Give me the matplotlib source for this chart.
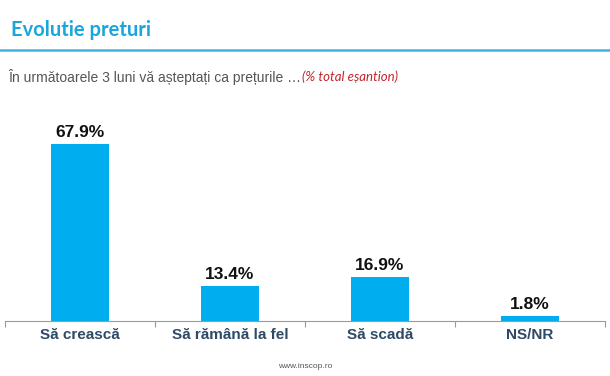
import matplotlib
matplotlib.use("Agg")
import matplotlib.pyplot as plt

categories = ["Să crească", "Să rămână la fel", "Să scadă", "NS/NR"]
values = [67.9, 13.4, 16.9, 1.8]
value_labels = ["67.9%", "13.4%", "16.9%", "1.8%"]

plt.rcParams['font.family'] = ['Liberation Sans', 'DejaVu Sans']

W, H = 610, 376
fig = plt.figure(figsize=(W/100, H/100), dpi=100)

# Title
fig.text(11/W, 1-30/H, "Evolutie preturi", fontsize=14.5, fontweight='bold',
         color='#1BA6DB', va='center', ha='left', family=['Lato', 'DejaVu Sans'])
fig.add_artist(plt.Line2D([0, 1], [1-50/H, 1-50/H], color='#3BB3E3', lw=1.8,
                          transform=fig.transFigure))

# Subtitle
t1 = fig.text(8/W, 1-77/H, "În următoarele 3 luni vă așteptați ca prețurile …",
              fontsize=10, color='#555555', va='center', ha='left')
fig.canvas.draw()
bb = t1.get_window_extent()
fig.text(bb.x1/W + 1/W, 1-77/H, "(% total eșantion)", fontsize=9.5, color='#C0262D',
         style='italic', va='center', ha='left', family=['Lato', 'DejaVu Sans'])

# Axes
ax_bottom = 1 - 321/H
ax_h = 75*2.607/H
ax = fig.add_axes([5/W, ax_bottom, 600/W, ax_h])
x = range(len(categories))
ax.bar(x, values, width=0.385, color='#00AEEF')
ax.set_xlim(-0.5, len(categories)-0.5)
ax.set_ylim(0, 75)
for i, (v, lab) in enumerate(zip(values, value_labels)):
    ax.text(i, v + 1.6, lab, ha='center', va='bottom', fontsize=12.5,
            fontweight='bold', color='#111111')
for s in ['top', 'right', 'left']:
    ax.spines[s].set_visible(False)
ax.spines['bottom'].set_color('#9A9A9A')
ax.spines['bottom'].set_linewidth(0.8)
ax.set_yticks([])
ax.set_xticks([i - 0.5 for i in range(len(categories)+1)])
ax.set_xticklabels([])
ax.tick_params(axis='x', length=4, color='#9A9A9A', direction='out', width=0.8)
for i, c in enumerate(categories):
    ax.text(i, -2.5, c, ha='center', va='top', fontsize=11, fontweight='bold',
            color='#2E4A66')

# Footer
fig.text(305/W, 1-366/H, "www.inscop.ro", fontsize=6, color='#555555',
         ha='center', va='center')

fig.savefig("out.png", dpi=100)
